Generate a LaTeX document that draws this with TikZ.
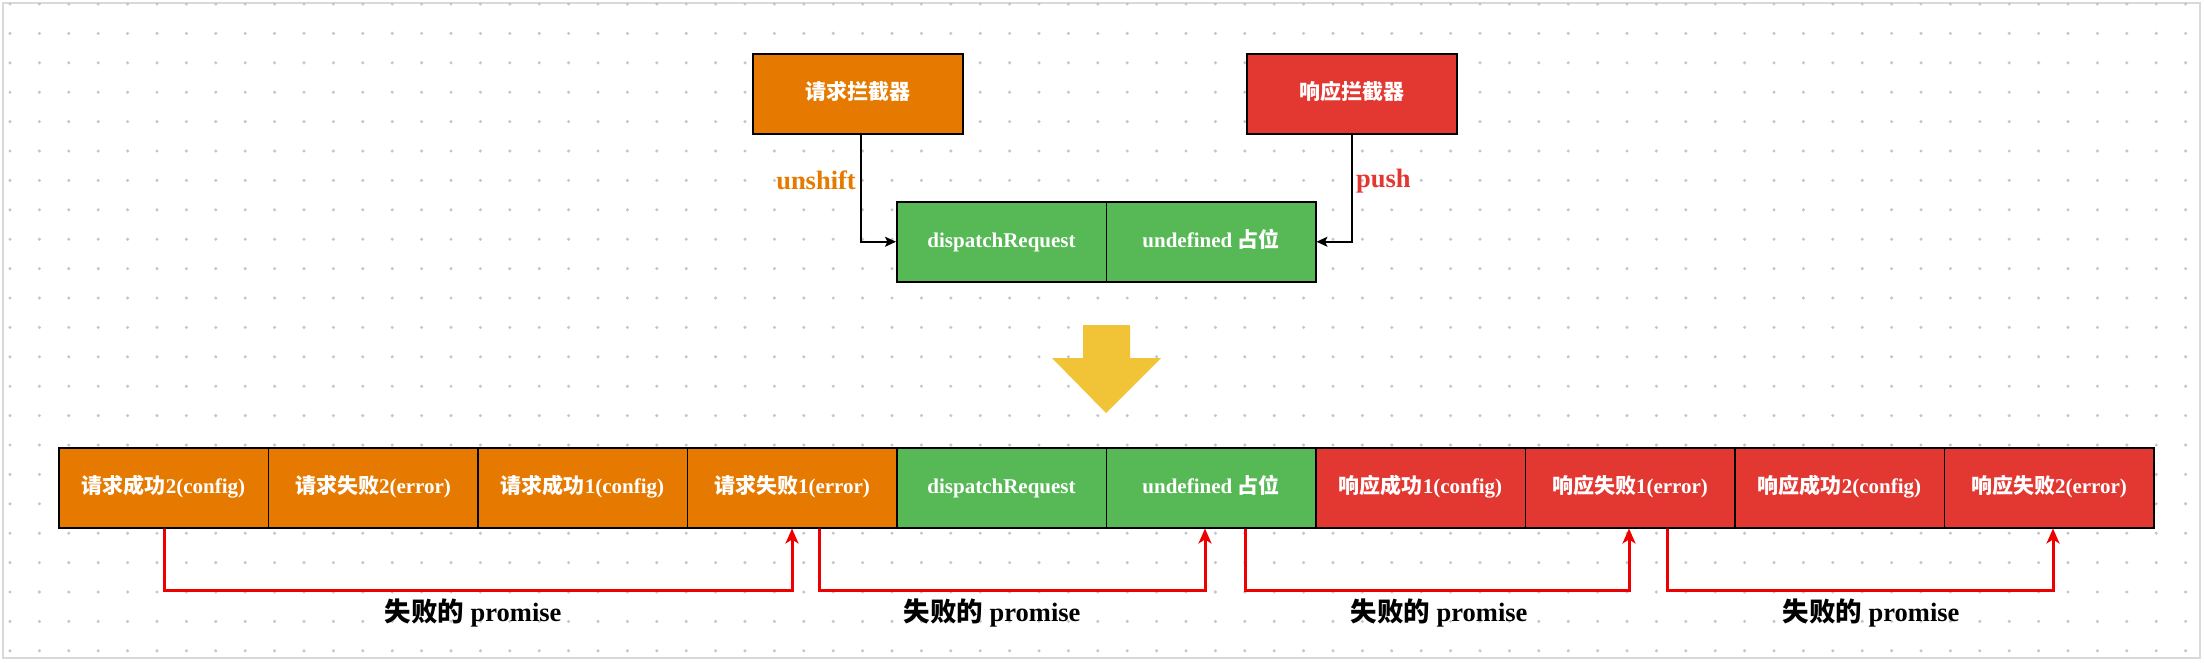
\documentclass[tikz,border=0pt]{standalone}
\usepackage{fontspec}
\setmainfont{Liberation Serif}
\newfontfamily\cjkf{Noto Sans CJK SC}
\newcommand\zhs[1]{{\cjkf #1}}
\usetikzlibrary{arrows.meta,calc}
\definecolor{corange}{HTML}{E67A00}
\definecolor{cred}{HTML}{E33731}
\definecolor{cgreen}{HTML}{56B956}
\definecolor{cyellow}{HTML}{F1C337}
\definecolor{cline}{HTML}{EE0000}
\definecolor{cdot}{HTML}{C6C6C6}
\tikzset{
  cellbox/.style={draw=black, line width=1.5pt, minimum width=209.5pt, minimum height=80pt,
    inner sep=0pt, text height=15pt, text depth=3pt, text=white, anchor=north west,
    font=\fontsize{21}{24}\selectfont\bfseries},
  orangecell/.style={cellbox, fill=corange},
  redcell/.style={cellbox, fill=cred},
  greencell/.style={cellbox, fill=cgreen},
  blkconn/.style={draw=black, line width=1.5pt, -{Stealth[length=11pt,width=10pt,inset=2.5pt]}},
  redconn/.style={draw=cline, line width=3pt, -{Stealth[length=15pt,width=13pt,inset=4pt]}},
  lbl/.style={font=\fontsize{26.5}{30}\selectfont\bfseries, inner sep=0pt},
}
\begin{document}
\begin{tikzpicture}[x=1pt,y=-1pt]
\useasboundingbox (0,0) rectangle (2204,662);
\fill[white] (0,0) rectangle (2204,662);
\draw[black!15, line width=1.5pt] (3,3) rectangle (2200,658);
\foreach \i in {0,...,74}{
  \foreach \j in {0,...,22}{
    \fill[cdot] (10+29.4*\i, 4+29.4*\j) circle (1.7);
  }
}
% top interceptors
\node[orangecell, minimum width=210pt] (req) at (752,53) {\zhs{请求拦截器}};
\node[redcell, minimum width=210pt] (resp) at (1246,53) {\zhs{响应拦截器}};
% top chain
\node[greencell] (tg1) at (896,201) {dispatchRequest};
\node[greencell] (tg2) at (1105.5,201) {undefined \zhs{占位}};
\draw[blkconn] ([xshift=3pt]req.south) |- (tg1.west);
\draw[blkconn] (resp.south) |- (tg2.east);
\node[lbl, text=corange, anchor=east] (ul) at (856,180) {unshift};
\node[lbl, text=cred, anchor=west] (pl) at (1356,181) {push};
% big arrow
\fill[cyellow] (1083,325) -- (1130,325) -- (1130,358) -- (1161,358) -- (1106,413) -- (1052,358) -- (1083,358) -- cycle;
% bottom chain
\node[orangecell] (c0) at (58,447) {\zhs{请求成功}2(config)};
\node[orangecell] (c1) at (267.5,447) {\zhs{请求失败}2(error)};
\node[orangecell] (c2) at (477,447) {\zhs{请求成功}1(config)};
\node[orangecell] (c3) at (686.5,447) {\zhs{请求失败}1(error)};
\node[greencell] (c4) at (896,447) {dispatchRequest};
\node[greencell] (c5) at (1105.5,447) {undefined \zhs{占位}};
\node[redcell] (c6) at (1315,447) {\zhs{响应成功}1(config)};
\node[redcell] (c7) at (1524.5,447) {\zhs{响应失败}1(error)};
\node[redcell] (c8) at (1734,447) {\zhs{响应成功}2(config)};
\node[redcell] (c9) at (1943.5,447) {\zhs{响应失败}2(error)};
% failure connectors
\draw[redconn] ([xshift=1pt]c0.south) -- ++(0,61.5) -| (c3.south);
\draw[redconn] ([xshift=27pt]c3.south) -- ++(0,61.5) -| ([xshift=-6pt]c5.south);
\draw[redconn] ([xshift=34pt]c5.south) -- ++(0,61.5) -| ([xshift=-1pt]c7.south);
\draw[redconn] ([xshift=37pt]c7.south) -- ++(0,61.5) -| ([xshift=4pt]c9.south);
\node[lbl] (f1) at (473,613) {\zhs{失败的} promise};
\node[lbl] (f2) at (992,613) {\zhs{失败的} promise};
\node[lbl] (f3) at (1439,613) {\zhs{失败的} promise};
\node[lbl] (f4) at (1871,613) {\zhs{失败的} promise};
\end{tikzpicture}
\end{document}
